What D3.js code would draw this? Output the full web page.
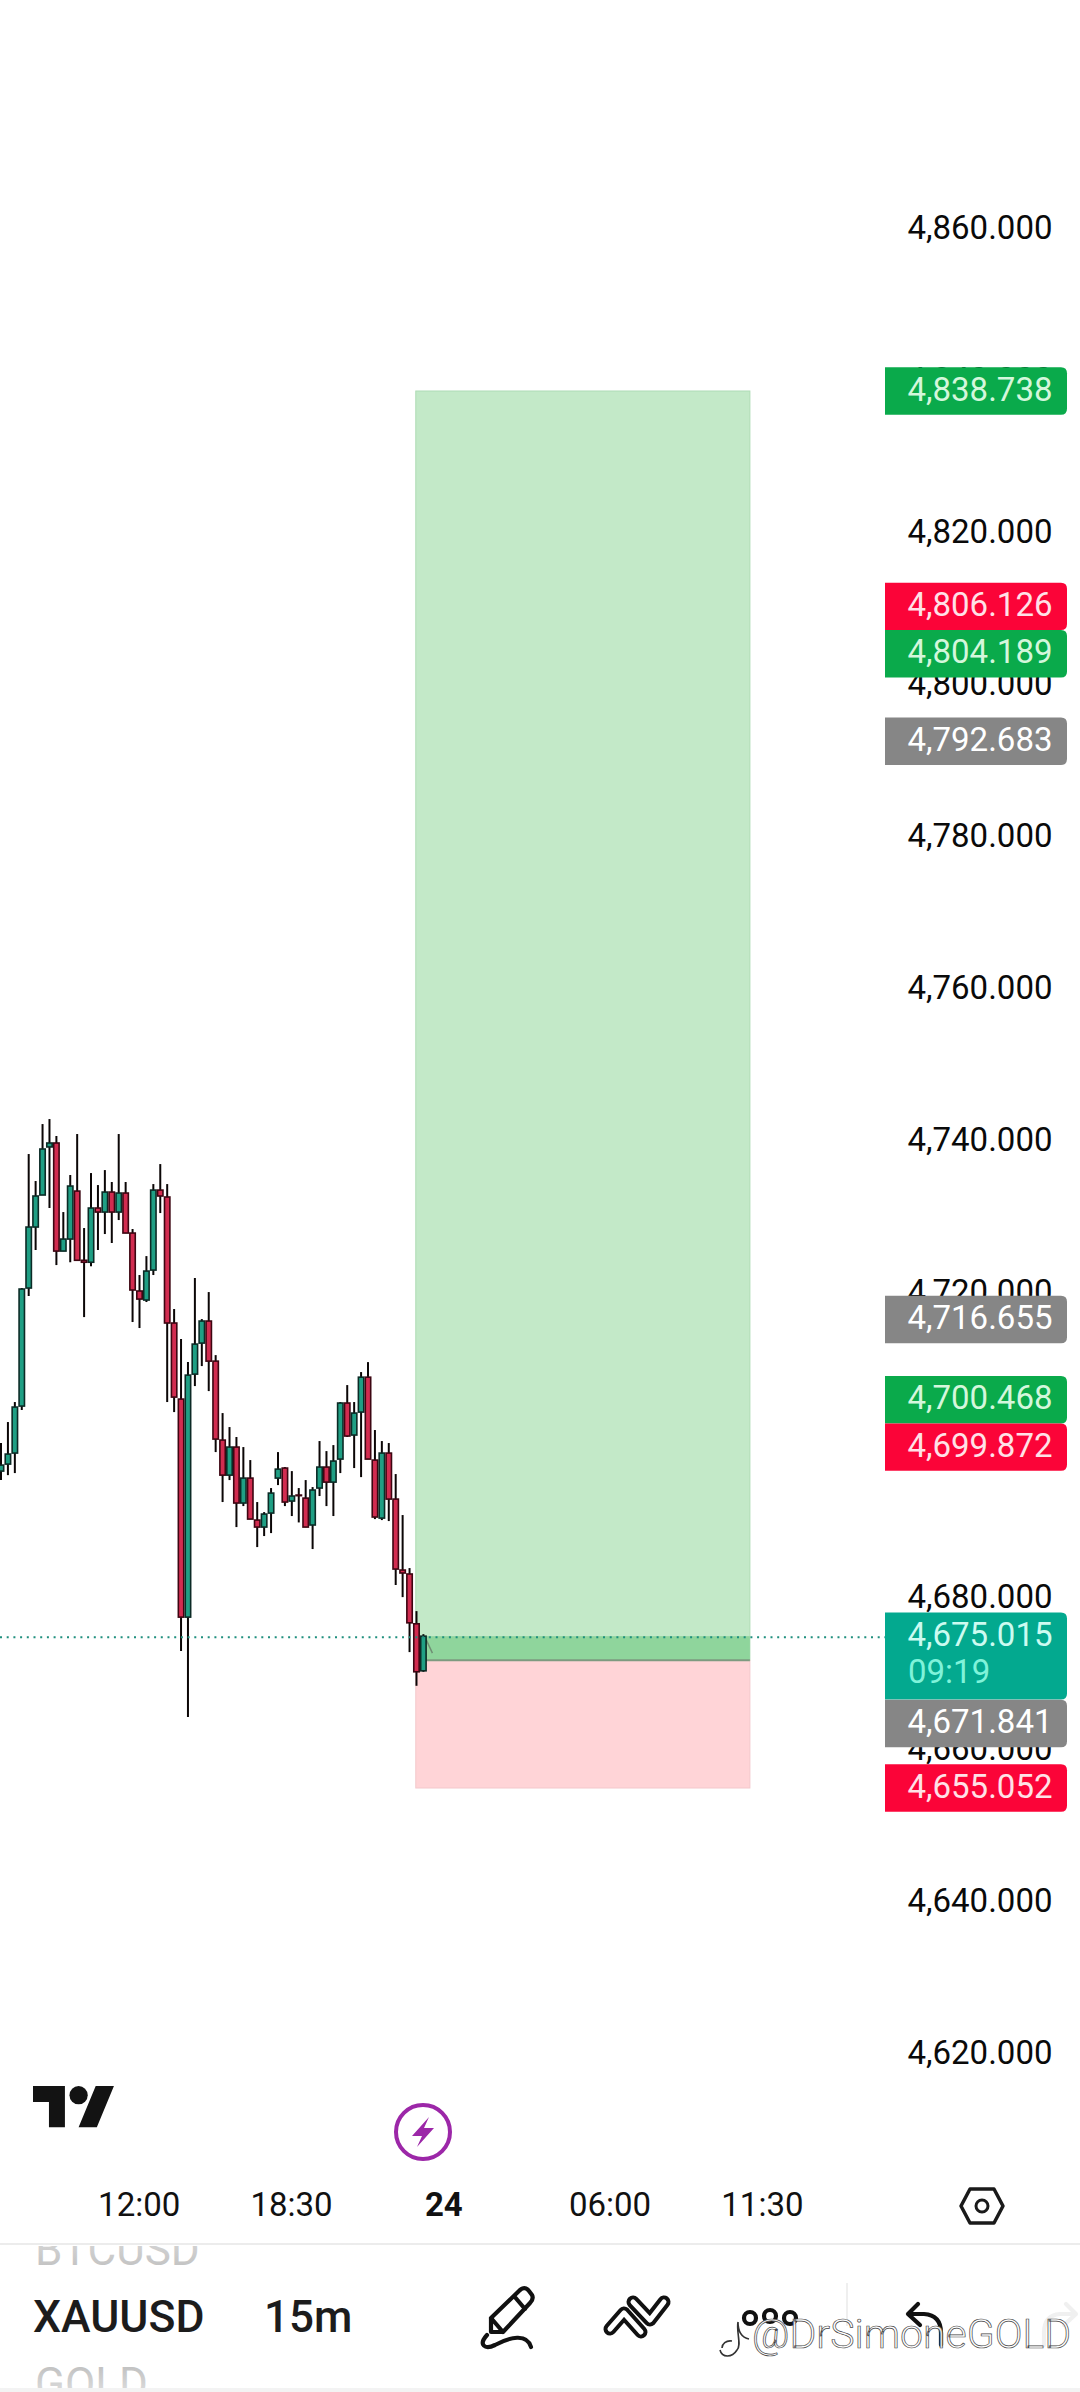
<!DOCTYPE html>
<html>
<head>
<meta charset="utf-8">
<script src="https://cdn.jsdelivr.net/npm/d3@7/dist/d3.min.js"></script>
<style>
html,body{margin:0;padding:0;background:#fff;}
svg{display:block;font-family:Roboto,sans-serif;}
</style>
</head>
<body>
<div id="chart"></div>
<script>
// ---- data ----
const opens = [4696.72,4697.64,4699.09,4705.27,4720.79,4728.81,4733.02,4739.34,4739.86,4725.65,4727.23,4733.54,4724.44,4724.18,4731.31,4730.78,4733.41,4730.78,4733.28,4728.02,4720.40,4719.21,4723.15,4733.67,4732.76,4716.19,4706.19,4677.52,4709.47,4713.55,4716.45,4711.18,4700.80,4696.19,4699.88,4692.52,4695.80,4690.28,4689.36,4691.20,4695.80,4697.12,4692.78,4693.57,4693.17,4689.63,4694.49,4697.25,4695.27,4698.30,4705.67,4701.46,4704.48,4709.07,4698.17,4690.54,4699.09,4693.04,4683.71,4683.19,4676.64,4670.46];
const highs = [4700.41,4703.17,4705.80,4720.79,4738.41,4734.86,4742.35,4743.01,4740.78,4730.78,4735.65,4741.04,4728.68,4735.91,4734.33,4736.30,4734.73,4741.04,4734.73,4728.55,4722.50,4724.99,4734.46,4737.09,4734.46,4718.03,4714.08,4711.05,4722.11,4716.71,4720.26,4711.97,4704.35,4702.51,4701.20,4699.88,4698.17,4692.65,4691.33,4694.49,4699.22,4697.25,4696.72,4694.49,4695.54,4694.62,4700.67,4699.35,4700.14,4705.80,4708.03,4705.80,4709.74,4711.05,4702.12,4700.67,4700.41,4696.33,4690.94,4683.97,4678.31,4675.28];
const lows = [4695.54,4696.19,4696.46,4704.75,4719.74,4725.79,4733.02,4731.31,4723.81,4725.65,4724.18,4724.44,4716.97,4723.65,4725.79,4727.89,4726.71,4729.73,4728.02,4716.32,4715.53,4718.95,4722.50,4730.65,4705.80,4704.48,4673.05,4664.38,4707.90,4710.53,4707.24,4699.22,4692.65,4695.54,4689.36,4692.12,4690.41,4686.73,4688.18,4688.57,4694.88,4692.12,4690.81,4689.97,4689.36,4686.47,4693.44,4692.12,4690.81,4696.46,4701.20,4697.12,4695.93,4698.30,4690.41,4690.28,4690.15,4681.74,4680.15,4672.92,4668.49,4670.33];
const closes = [4697.51,4698.96,4705.14,4720.66,4728.81,4732.89,4739.07,4739.86,4725.65,4727.23,4734.20,4724.44,4724.18,4731.31,4730.78,4733.41,4730.78,4733.28,4728.02,4720.53,4719.34,4723.02,4733.67,4732.89,4716.19,4706.45,4677.52,4709.34,4713.42,4716.45,4711.18,4700.93,4696.19,4699.88,4692.52,4695.80,4690.41,4689.36,4691.07,4693.83,4696.98,4692.65,4693.44,4693.50,4689.36,4694.23,4697.25,4695.27,4698.04,4705.67,4701.33,4704.35,4709.07,4698.30,4690.68,4699.09,4693.04,4683.84,4683.32,4676.77,4670.33,4675.015];

const priceTicks = [4860,4840,4820,4800,4780,4760,4740,4720,4700,4680,4660,4640,4620];
const timeTickIndex = [20,42,64,88,110];
const timeTickLabels = ["12:00","18:30","24","06:00","11:30"];
const boldTimeLabel = "24";

const targetPrice = 4838.738;
const entryPrice = 4671.841;
const stopPrice = 4655.052;
const lastPrice = 4675.015;
const countdown = "09:19";
const positionSpan = [59.9,108.15];

const tagValues = [4838.738,4806.126,4804.189,4792.683,4716.655,4700.468,4699.872,4675.015,4671.841,4655.052];
const tagKinds  = ["green","red","green","grey","grey","green","red","teal","grey","red"];
const tagShift  = ["","up","","","","up","","","down",""];

// ---- layout ----
const W = 1080, H = 2392;
const x = d3.scaleLinear().domain([0,61]).range([1,423.4]);
const y = d3.scaleLinear().domain([targetPrice,stopPrice]).range([391,1788]);
const tagFill = {green:"#0aaa4b",red:"#fb0438",grey:"#868686",teal:"#03a98f"};
const tagText = {green:"#d4f7dc",red:"#ffe1e7",grey:"#ffffff",teal:"#ccfbf1"};
const fmt = d3.format(",.3f");

const svg = d3.select("#chart").append("svg").attr("width",W).attr("height",H).attr("viewBox",[0,0,W,H]);
const defs = svg.append("defs");
function fade(id,stops){
  const g = defs.append("linearGradient").attr("id",id).attr("x1",0).attr("y1",0).attr("x2",0).attr("y2",1);
  stops.forEach(s=>g.append("stop").attr("offset",s[0]).attr("stop-color",s[1]));
}
fade("fadeBtc",[[0,"#e0e0e0"],[1,"#bdbdbd"]]);
fade("fadeGold",[[0,"#b9b9b9"],[1,"#eeeeee"]]);
defs.append("clipPath").attr("id","clipSym").append("rect").attr("x",0).attr("y",2246).attr("width",W).attr("height",142);

// position tool
const pos = svg.append("g");
const px0 = x(positionSpan[0]), px1 = x(positionSpan[1]);
pos.append("rect").attr("x",px0).attr("y",y(targetPrice)).attr("width",px1-px0).attr("height",y(entryPrice)-y(targetPrice))
  .attr("fill","#c3e9c8").attr("stroke","#aedcb5").attr("stroke-width",1);
pos.append("rect").attr("x",px0).attr("y",y(entryPrice)).attr("width",px1-px0).attr("height",y(stopPrice)-y(entryPrice))
  .attr("fill","#ffd4d7").attr("stroke","#f3c8cb").attr("stroke-width",1);
pos.append("rect").attr("x",px0+4).attr("y",y(lastPrice)).attr("width",px1-px0-4).attr("height",y(entryPrice)-y(lastPrice))
  .attr("fill","#8fd59c");
pos.append("line").attr("x1",x(61)).attr("x2",px1).attr("y1",y(entryPrice)).attr("y2",y(entryPrice))
  .attr("stroke","#7d9a80").attr("stroke-width",2);
pos.append("path").attr("d",`M${x(61)+3},${y(lastPrice)+4}L${x(61)+9},${y(lastPrice)+17}M${x(61)+3},${y(lastPrice)+4}L${x(61)},${y(lastPrice)+10}`)
  .attr("stroke","#6f8f74").attr("fill","none").attr("stroke-width",1.5);

// price axis (labels sit below the tags)
const yAxis = d3.axisRight(y).tickValues(priceTicks).tickFormat(fmt).tickSize(0).tickPadding(0);
const gy = svg.append("g").attr("transform","translate(1052.5,0)").call(yAxis);
gy.select(".domain").remove();
gy.selectAll("text").attr("text-anchor","end").attr("x",0).attr("dy","0.28em")
  .attr("font-size",33).attr("font-family","Roboto,sans-serif").attr("fill","#0a0a0a")
  .attr("transform","translate(0,-0.5)");

// candles
const idx = d3.range(closes.length);
const candles = svg.append("g");
candles.selectAll("line.wick").data(idx).join("line").attr("class","wick")
  .attr("x1",i=>x(i)).attr("x2",i=>x(i)).attr("y1",i=>y(highs[i])).attr("y2",i=>y(lows[i]))
  .attr("stroke","#0b0606").attr("stroke-width",2);
candles.selectAll("rect.body").data(idx).join("rect").attr("class","body")
  .attr("x",i=>x(i)-2.7).attr("width",5.4)
  .attr("y",i=>y(Math.max(opens[i],closes[i])))
  .attr("height",i=>Math.max(0.6,Math.abs(y(opens[i])-y(closes[i]))))
  .attr("fill",i=>closes[i]>=opens[i]?"#1f9f84":"#d22c50")
  .attr("stroke",i=>closes[i]>=opens[i]?"#0c2b26":"#3d0612").attr("stroke-width",1.6);

// last price line
svg.append("line").attr("x1",0).attr("x2",885).attr("y1",y(lastPrice)+1).attr("y2",y(lastPrice)+1)
  .attr("stroke","#1f8f7d").attr("stroke-width",2).attr("stroke-dasharray","2 4.7");

// price tags
const tagH = 47.4;
const centers = tagValues.map(v=>y(v));
tagShift.forEach((s,i)=>{
  if(s==="up") centers[i] = y(tagValues[i+1]) - tagH;
});
tagShift.forEach((s,i)=>{
  if(s==="down") centers[i] = 1723.5;
});
const tagPath = (t,h)=>{
  const l=885,r=1067,c=6;
  return `M${l},${t}H${r-c}Q${r},${t} ${r},${t+c}V${t+h-c}Q${r},${t+h} ${r-c},${t+h}H${l}Z`;
};
const tags = svg.append("g");
tagValues.forEach((v,i)=>{
  const isLast = tagKinds[i]==="teal";
  const top = centers[i]-tagH/2;
  const h = isLast ? 87 : tagH;
  tags.append("path").attr("d",tagPath(top,h)).attr("fill",tagFill[tagKinds[i]]);
  tags.append("text").attr("x",1052.5).attr("y",centers[i]+9.5).attr("text-anchor","end")
    .attr("font-size",33).attr("fill",tagText[tagKinds[i]]).text(fmt(v));
  if(isLast){
    tags.append("text").attr("x",908).attr("y",centers[i]+47).attr("font-size",33)
      .attr("fill","#7ff3da").text(countdown);
  }
});

// time axis
const xAxis = d3.axisBottom(x).tickValues(timeTickIndex).tickFormat((d,i)=>timeTickLabels[i]).tickSize(0).tickPadding(0);
const gx = svg.append("g").attr("transform","translate(-0.8,2204)").call(xAxis);
gx.select(".domain").remove();
gx.selectAll("text").attr("y",0).attr("dy","0.36em").attr("font-size",33)
  .attr("font-family","Roboto,sans-serif").attr("fill","#111")
  .attr("font-weight",function(){return d3.select(this).text()===boldTimeLabel?700:400;});

// TradingView logo
svg.append("path").attr("transform","translate(33,2077) scale(2.28)")
  .attr("d","M14 22H7V11H0V4h14v18zM28 22h-8l7.5-18h8L28 22z").attr("fill","#131313");
svg.append("circle").attr("cx",33+20*2.28).attr("cy",2077+8*2.28).attr("r",4*2.28).attr("fill","#131313");

// bolt badge
svg.append("circle").attr("cx",423).attr("cy",2132).attr("r",27).attr("fill","#fff").attr("stroke","#9c27a8").attr("stroke-width",4);
svg.append("path").attr("d","M429,2117 L412,2136 L422,2136 L417,2147 L434,2128 L424,2128 Z").attr("fill","#9c27a8");

// settings hexagon
svg.append("path").attr("d","M970,2189 H994 L1003,2206 L994,2223 H970 L961,2206 Z").attr("fill","none").attr("stroke","#1a1a1a").attr("stroke-width",3.5).attr("stroke-linejoin","round");
svg.append("circle").attr("cx",982).attr("cy",2206).attr("r",6).attr("fill","none").attr("stroke","#1a1a1a").attr("stroke-width",3);

// bottom bar
svg.append("line").attr("x1",0).attr("x2",W).attr("y1",2244).attr("y2",2244).attr("stroke","#ececec").attr("stroke-width",2);
svg.append("rect").attr("x",0).attr("y",2388).attr("width",W).attr("height",4).attr("fill","#f3f3f3");
const sym = svg.append("g").attr("clip-path","url(#clipSym)");
sym.append("text").attr("x",35).attr("y",2265).attr("font-size",44).attr("fill","url(#fadeBtc)").text("BTCUSD");
sym.append("text").attr("x",35).attr("y",2399).attr("font-size",44).attr("fill","url(#fadeGold)").text("GOLD");
svg.append("text").attr("x",33).attr("y",2332).attr("font-size",44.5).attr("font-weight",500).attr("fill","#1c1c1c").text("XAUUSD");
svg.append("text").attr("x",264).attr("y",2332).attr("font-size",44).attr("font-weight",500).attr("fill","#1c1c1c").text("15m");

const ink = {fill:"none",stroke:"#111","stroke-width":4.2,"stroke-linejoin":"round","stroke-linecap":"round"};
const icon = d=>{const p=svg.append("path").attr("d",d);Object.entries(ink).forEach(([k,v])=>p.attr(k,v));return p;};
// pencil
icon("M491,2318 L520,2290 Q525,2286 529,2291 L532,2295 Q534,2299 530,2303 L503,2332 H491 Z M514,2296 L525,2309 M491,2318 L503,2332");
icon("M487,2335 C478,2345 485,2350 495,2345 C510,2337 527,2333 531,2347");
// trend tool (outlined chevrons)
[["#111",13],["#fff",5]].forEach(([c,w])=>{
  svg.append("path").attr("d","M610,2329 L624,2313 L641,2332").attr("fill","none").attr("stroke",c).attr("stroke-width",w).attr("stroke-linecap","round").attr("stroke-linejoin","round");
  svg.append("path").attr("d","M633,2302 L650,2320 L664,2302").attr("fill","none").attr("stroke",c).attr("stroke-width",w).attr("stroke-linecap","round").attr("stroke-linejoin","round");
});
// alerts/objects icon
icon("M750,2318 m-6,0 a6,6 0 1,0 12,0 a6,6 0 1,0 -12,0 M770,2316 m-6,0 a6,6 0 1,0 12,0 a6,6 0 1,0 -12,0 M790,2318 m-6,0 a6,6 0 1,0 12,0 a6,6 0 1,0 -12,0");
// divider, undo, redo
svg.append("line").attr("x1",847).attr("x2",847).attr("y1",2283).attr("y2",2326).attr("stroke","#eaeaea").attr("stroke-width",1.5);
icon("M918,2304 L908,2314 L920,2325 M908,2314 H924 Q941,2315 941,2333 V2345");
icon("M1066,2304 L1076,2314 L1064,2325 M1076,2314 H1060 Q1044,2315 1044,2333 V2345").attr("stroke","#f0f0f0");

// watermark
svg.append("path").attr("d","M738,2322 C738,2335 744,2338 749,2339 M738,2322 C736,2332 742,2345 737,2350 C732,2358 722,2358 720,2350 M732,2341 C726,2340 722,2344 722,2348")
  .attr("fill","none").attr("stroke","#333").attr("stroke-width",1.6);
svg.append("text").attr("x",752).attr("y",2348).attr("font-size",41).attr("font-weight",300)
  .attr("fill","#fff").attr("stroke","#444").attr("stroke-width",0.7).attr("fill-opacity",0.92).text("@DrSimoneGOLD");
</script>
</body>
</html>
